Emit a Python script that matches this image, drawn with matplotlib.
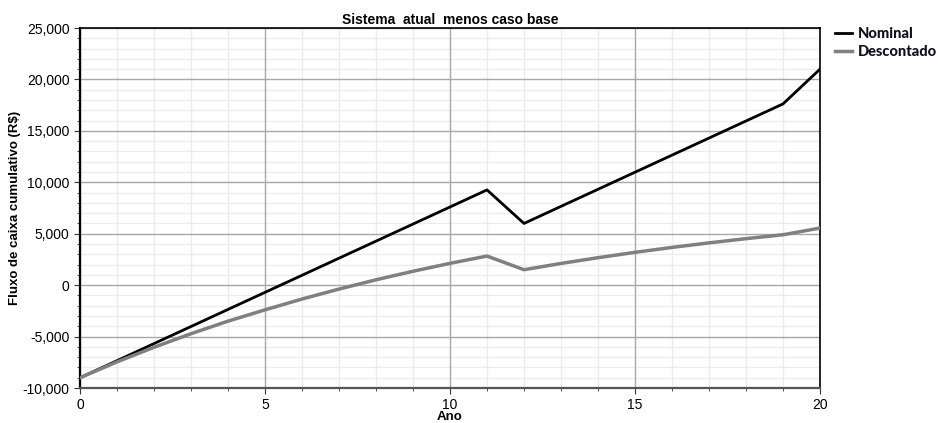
import matplotlib.pyplot as plt
from matplotlib.ticker import MultipleLocator, FuncFormatter

anos = list(range(21))
nominal = [-9000, -7340, -5680, -4020, -2360, -700, 960, 2620, 4280, 5940,
           7600, 9260, 6000, 7660, 9320, 10980, 12640, 14300, 15960, 17620, 21000]
descontado = [-9000, -7460, -6040, -4720, -3500, -2400, -1350, -380, 520, 1350,
              2120, 2830, 1500, 2110, 2670, 3190, 3670, 4110, 4520, 4900, 5550]

plt.rcParams['font.family'] = ['Liberation Sans', 'DejaVu Sans']

fig = plt.figure(figsize=(9.38, 4.23), dpi=100)
ax = fig.add_axes([0.0853, 0.0827, 0.7889, 0.8511])

ax.plot(anos, nominal, color='black', lw=2, label='Nominal', zorder=3)
ax.plot(anos, descontado, color='#808080', lw=2.5, label='Descontado', zorder=3)

ax.set_xlim(0, 20)
ax.set_ylim(-10000, 25000)
ax.xaxis.set_major_locator(MultipleLocator(5))
ax.xaxis.set_minor_locator(MultipleLocator(1))
ax.yaxis.set_major_locator(MultipleLocator(5000))
ax.yaxis.set_minor_locator(MultipleLocator(1000))
ax.yaxis.set_major_formatter(FuncFormatter(lambda v, p: f'{int(v):,}'))

# grid drawn by hand so the major lines sit on top of the minor ones
for x in ax.get_xticks(minor=True):
    ax.axvline(x, color='#ececec', lw=1, zorder=0.5)
for y in ax.get_yticks(minor=True):
    ax.axhline(y, color='#ececec', lw=1, zorder=0.5)
for x in ax.get_xticks():
    ax.axvline(x, color='#a8a8a8', lw=1, zorder=1)
for y in ax.get_yticks():
    ax.axhline(y, color='#a8a8a8', lw=1, zorder=1)

ax.tick_params(which='both', direction='out', labelsize=10, color='#333333')
ax.tick_params(which='major', length=4)
ax.tick_params(which='minor', length=2.5)
for s in ax.spines.values():
    s.set_color('black')
    s.set_linewidth(1.2)
ax.spines['left'].set_linewidth(1.6)
ax.spines['bottom'].set_color('#555555')
ax.spines['bottom'].set_linewidth(1.6)

ax.set_title('Sistema  atual  menos caso base', fontsize=10, fontweight='bold', pad=3)
ax.set_xlabel('Ano', fontsize=9.5, fontweight='bold', labelpad=-1)
ax.set_ylabel('Fluxo de caixa cumulativo (R$)', fontsize=9.5, fontweight='bold', labelpad=1)

leg = fig.legend(loc='upper left', bbox_to_anchor=(0.884, 0.95), frameon=False,
                 handlelength=1.15, handletextpad=0.45, labelspacing=0.3,
                 borderaxespad=0, prop={'family': 'Lato', 'weight': 'black', 'size': 10.5})
for t in leg.get_texts():
    t.set_color('#101020')

fig.savefig('out.png', dpi=100)
